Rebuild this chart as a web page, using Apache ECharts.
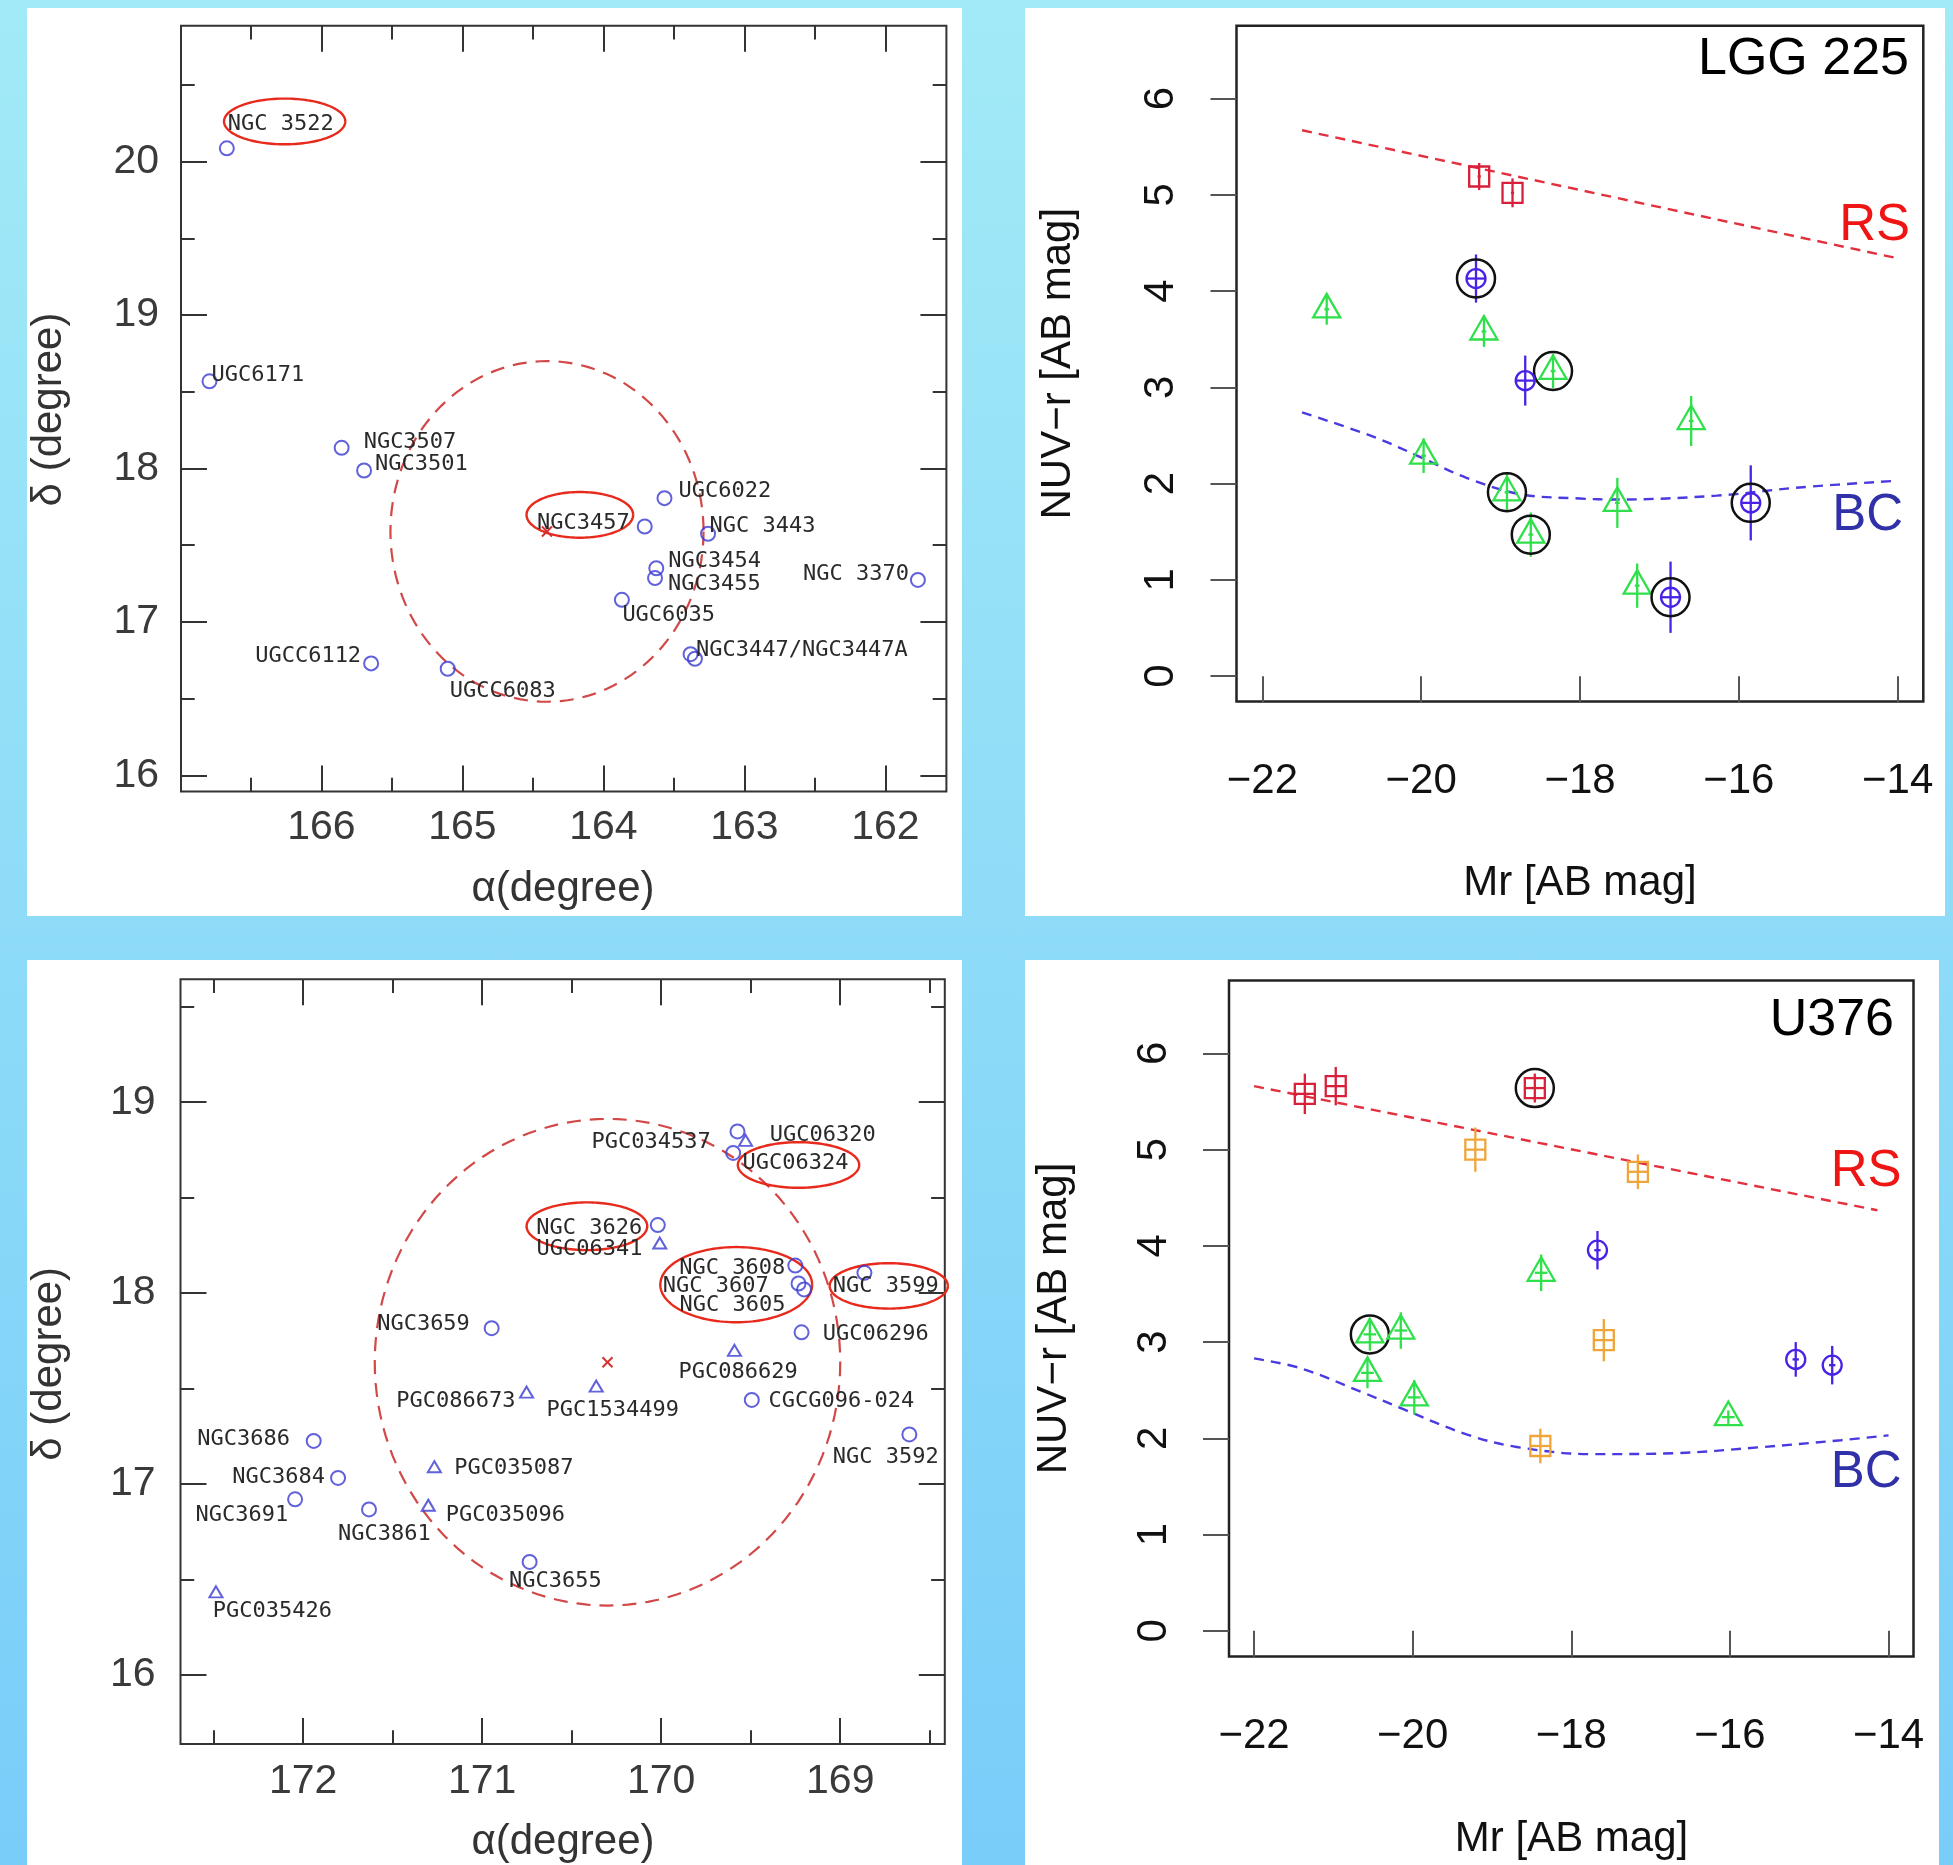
<!DOCTYPE html>
<html><head><meta charset="utf-8">
<script src="https://cdn.jsdelivr.net/npm/echarts@6/dist/echarts.min.js"></script>
<style>
html,body{margin:0;padding:0;}
body{width:1953px;height:1865px;background:linear-gradient(#a2eaf7,#79cdf9);position:relative;overflow:hidden;}
.panel{position:absolute;background:#fff;}
#chart{position:absolute;left:0;top:0;width:1953px;height:1865px;}
</style></head><body>
<div class="panel" style="left:27px;top:8px;width:935px;height:908px"></div>
<div class="panel" style="left:1025px;top:8px;width:920px;height:908px"></div>
<div class="panel" style="left:27px;top:960px;width:935px;height:905px"></div>
<div class="panel" style="left:1025px;top:960px;width:914px;height:905px"></div>
<div id="chart"></div>
<script>
// ================= DATA =================
// --- Panel A: LGG 225 sky map (RA, Dec in degrees) ---
const lggNames  = ['NGC 3522','UGC6171','NGC3507','NGC3501','NGC3457','UGC6022','NGC 3443','NGC3454','NGC3455','UGC6035','NGC 3370','NGC3447','NGC3447A','UGCC6112','UGCC6083'];
const lggRA     = [166.67,166.793,165.856,165.697,163.707,163.567,163.258,163.625,163.634,163.869,161.77,163.382,163.351,165.647,165.104];
const lggDec    = [20.087,18.568,18.135,17.987,17.622,17.807,17.575,17.35,17.286,17.144,17.274,16.79,16.76,16.73,16.695];
const lggLabels = ['NGC 3522','UGC6171','NGC3507','NGC3501','NGC3457','UGC6022','NGC 3443','NGC3454','NGC3455','UGC6035','NGC 3370','','NGC3447/NGC3447A','UGCC6112','UGCC6083'];
const lggCenter = [[164.40,17.59,1.11,1.11]];          // group centre and radius (deg)
const lggRings  = [[166.26,20.262,0.43,0.149],[164.167,17.698,0.378,0.149]];
const lggXTicks = [162,163,164,165,166];
const lggXMinor = [162.5,163.5,164.5,165.5,166.5];
const lggYTicks = [16,17,18,19,20];
const lggYMinor = [16.5,17.5,18.5,19.5,20.5];

// --- Panel C: U376 sky map ---
const uCircNames  = ['cA','cB','NGC 3626','NGC 3608','NGC 3607','NGC 3605','NGC 3599','UGC06296','NGC3659','CGCG096-024','NGC 3592','NGC3686','NGC3684','NGC3691','NGC3861','NGC3655'];
const uCircLabels = ['PGC034537','UGC06324','NGC 3626','NGC 3608','NGC 3607','NGC 3605','NGC 3599','UGC06296','NGC3659','CGCG096-024','NGC 3592','NGC3686','NGC3684','NGC3691','NGC3861','NGC3655'];
const uCircRA  = [169.574,169.598,170.019,169.251,169.233,169.202,168.865,169.216,170.947,169.494,168.614,171.941,171.805,172.045,171.632,170.735];
const uCircDec = [18.847,18.734,18.356,18.144,18.05,18.019,18.106,17.794,17.816,17.44,17.259,17.225,17.031,16.919,16.866,16.591];
const uTriLabels = ['UGC06320','UGC06341','PGC086629','PGC086673','PGC1534499','PGC035087','PGC035096','PGC035426'];
const uTriRA  = [169.529,170.008,169.591,170.752,170.363,171.267,171.301,172.487];
const uTriDec = [18.80,18.262,17.70,17.481,17.5125,17.09,16.888,16.434];
const uCenter = [[170.30,17.6375,1.30,1.275]];
const uRings  = [[169.233,18.671,0.339,0.1195],[170.415,18.35,0.337,0.125],[169.581,18.044,0.424,0.197],[168.729,18.0375,0.33,0.119]];
const uXTicks = [169,170,171,172];
const uXMinor = [168.5,169.5,170.5,171.5,172.5];
const uYTicks = [16,17,18,19];
const uYMinor = [16.5,17.5,18.5,19.5];

// --- Panel B: LGG 225 colour-magnitude ---
const bRedX = [-19.27,-18.85], bRedY = [5.19,5.02], bRedErr = [0.14,0.15], bRedXErr = [0.02,0.02], bRedRing = [0,0];
const bBlueX = [-19.31,-18.69,-15.85,-16.86], bBlueY = [4.13,3.07,1.80,0.82], bBlueErr = [0.25,0.26,0.39,0.37], bBlueXErr = [0.12,0.12,0.12,0.12], bBlueRing = [1,0,1,1];
const bGreenX = [-21.19,-19.21,-18.34,-19.97,-18.92,-18.62,-17.53,-16.60,-17.28];
const bGreenY = [3.81,3.58,3.17,2.29,1.91,1.47,1.80,2.65,0.94];
const bGreenErr = [0.16,0.16,0.18,0.18,0.20,0.23,0.26,0.26,0.23];
const bGreenXErr = [0.03,0.03,0.03,0.03,0.03,0.03,0.03,0.03,0.03];
const bGreenRing = [0,0,1,0,1,1,0,0,0];
const bRS = [[-21.5,5.67],[-14,4.34]];
const bBC = [[-21.5,2.74],[-20.58,2.48],[-19.97,2.26],[-19.43,2.06],[-18.75,1.89],[-18.0,1.845],[-17.54,1.835],[-16.28,1.875],[-15.24,1.96],[-14,2.03]];

// --- Panel D: U376 colour-magnitude ---
const dRedX = [-21.36,-20.97,-18.46], dRedY = [5.58,5.66,5.64], dRedErr = [0.21,0.20,0.15], dRedXErr = [0.13,0.13,0.13], dRedRing = [0,0,1];
const dOrX = [-19.21,-17.16,-17.59,-18.39], dOrY = [5.00,4.77,3.02,1.92], dOrErr = [0.23,0.18,0.22,0.18], dOrXErr = [0.12,0.12,0.12,0.12], dOrRing = [0,0,0,0];
const dBlueX = [-17.67,-15.17,-14.71], dBlueY = [3.955,2.82,2.76], dBlueErr = [0.20,0.18,0.20], dBlueXErr = [0.04,0.04,0.04], dBlueRing = [0,0,0];
const dGreenX = [-20.54,-20.15,-20.57,-19.98,-18.38,-16.02], dGreenY = [3.08,3.12,2.68,2.425,3.72,2.22];
const dGreenErr = [0.17,0.19,0.16,0.18,0.19,0.07], dGreenXErr = [0.08,0.08,0.08,0.08,0.08,0.08], dGreenRing = [1,0,0,0,0,0];
const dRS = [[-22,5.66],[-14.14,4.37]];
const dBC = [[-22,2.83],[-21.42,2.73],[-20.64,2.48],[-20.11,2.30],[-19.32,2.04],[-18.69,1.91],[-17.75,1.835],[-16.70,1.845],[-15.65,1.905],[-14.6,1.98],[-14.0,2.03]];
const cmdXTicks = [-22,-20,-18,-16,-14];
const cmdYTicks = [0,1,2,3,4,5,6];

// ================= LAYOUT (label offsets in px) =================
const lggLabelLayout = [[1,-24,'left'],[2,-6,'left'],[22,-6,'left'],[11,-6,'left'],[-15,-3,'right'],[14,-7,'left'],[1.5,-7,'left'],[12,-7,'left'],[13,6,'left'],[0.5,15,'left'],[-9,-6,'right'],null,[1,-8,'left'],[-10,-7,'right'],[2,23,'left']];
const uCircLayout = [[-26.8,11.3,'right'],[9.3,10.1,'left'],[-15.6,3,'right'],[-10,2.4,'right'],[-29.9,3,'right'],[-18.7,16.1,'right'],[-31.7,13.7,'left'],[21.2,1.8,'left'],[-21.8,-3.6,'right'],[16.8,1.2,'left'],[-76.6,23.3,'left'],[-23.7,-1.2,'right'],[-13.1,-0.6,'right'],[-6.8,16.1,'right'],[-31.1,24.4,'left'],[-20.5,19.7,'left']];
const uTriLayout = [[24.3,-5.4,'left'],[-17.4,6,'right'],[-56,22,'left'],[-11.2,9,'right'],[-49.8,23.9,'left'],[19.9,1.2,'left'],[17.4,10.1,'left'],[-3.1,19.1,'left']];

const SANS = '"Liberation Sans", Arial, Helvetica, sans-serif';
const MONO = '"DejaVu Sans Mono", "Liberation Mono", monospace';
const SKYBLUE = '#3a3ad2';
const GREEN = '#2fe04a', BLUE = '#4a22e6', RED = '#d8203a', ORANGE = '#f0a53a';

const chart = echarts.init(document.getElementById('chart'), null, {renderer:'canvas'});

const xAxes = [], yAxes = [];
function noAxis(o){ return Object.assign({type:'value', splitLine:{show:false}, axisLine:{show:false}, axisPointer:{show:false}}, o); }
function skyAxes(grid, xr, yr, xMaj, xMin, yMaj, yMin, xMargin, yMargin){
  const tk = (vals, len) => ({show:true, inside:true, length:len, customValues:vals, lineStyle:{color:'#333', width:2}});
  const lab = (vals, margin) => ({show:true, customValues:vals, margin, fontSize:41, fontFamily:SANS, color:'#3a3a3a'});
  const xi = xAxes.length, yi = yAxes.length;
  xAxes.push(noAxis({gridIndex:grid, min:xr[0], max:xr[1], inverse:true, position:'bottom', axisTick:tk(xMaj,26), axisLabel:lab(xMaj,xMargin)}));
  xAxes.push(noAxis({gridIndex:grid, min:xr[0], max:xr[1], inverse:true, position:'bottom', axisTick:tk(xMin,13.7), axisLabel:{show:false}}));
  xAxes.push(noAxis({gridIndex:grid, min:xr[0], max:xr[1], inverse:true, position:'top', axisTick:tk(xMaj,26), axisLabel:{show:false}}));
  xAxes.push(noAxis({gridIndex:grid, min:xr[0], max:xr[1], inverse:true, position:'top', axisTick:tk(xMin,13.7), axisLabel:{show:false}}));
  yAxes.push(noAxis({gridIndex:grid, min:yr[0], max:yr[1], position:'left', axisTick:tk(yMaj,26), axisLabel:lab(yMaj,yMargin)}));
  yAxes.push(noAxis({gridIndex:grid, min:yr[0], max:yr[1], position:'left', axisTick:tk(yMin,13.7), axisLabel:{show:false}}));
  yAxes.push(noAxis({gridIndex:grid, min:yr[0], max:yr[1], position:'right', axisTick:tk(yMaj,26), axisLabel:{show:false}}));
  yAxes.push(noAxis({gridIndex:grid, min:yr[0], max:yr[1], position:'right', axisTick:tk(yMin,13.7), axisLabel:{show:false}}));
  return [xi, yi];
}
const minusFmt = v => (v < 0 ? '\u2212' + Math.abs(v) : String(v));
function cmdAxes(grid, xr, yr){
  const xi = xAxes.length, yi = yAxes.length;
  xAxes.push(noAxis({gridIndex:grid, min:xr[0], max:xr[1], position:'bottom',
    axisTick:{show:true, inside:false, length:26, customValues:cmdXTicks, lineStyle:{color:'#555', width:2}},
    axisLabel:{show:true, customValues:cmdXTicks, margin:59, fontSize:42, fontFamily:SANS, color:'#111', formatter:minusFmt}}));
  yAxes.push(noAxis({gridIndex:grid, min:yr[0], max:yr[1], position:'left',
    axisTick:{show:true, inside:false, length:26, customValues:cmdYTicks, lineStyle:{color:'#555', width:2}},
    axisLabel:{show:true, customValues:cmdYTicks, margin:54, rotate:90, fontSize:42, fontFamily:SANS, color:'#111'}}));
  return [xi, yi];
}

const [aX, aY] = skyAxes(0, [161.568,166.995], [15.895,20.886], lggXTicks, lggXMinor, lggYTicks, lggYMinor, 16, 22);
const [bX, bY] = cmdAxes(1, [-22.326,-13.677], [-0.264,6.755]);
const [cX, cY] = skyAxes(2, [168.416,172.685], [15.637,19.644], uXTicks, uXMinor, uYTicks, uYMinor, 17, 25);
const [dX, dY] = cmdAxes(3, [-22.316,-13.685], [-0.268,6.757]);

function pairs(xs, ys){ return xs.map((x,i)=>[x, ys[i]]); }

function ellipseSeries(xi, yi, list, style, z){
  return {type:'custom', xAxisIndex:xi, yAxisIndex:yi, silent:true, z, clip:false, data:list, encode:{x:0,y:1},
    renderItem(params, api){
      const cx = api.value(0), cy = api.value(1);
      const c = api.coord([cx, cy]);
      const e = api.coord([cx + api.value(2), cy + api.value(3)]);
      const rx = Math.abs(e[0]-c[0]), ry = Math.abs(e[1]-c[1]);
      const pts = [];
      for (let k = 0; k <= 144; k++){ const a = k/144*2*Math.PI; pts.push([c[0]+rx*Math.cos(a), c[1]+ry*Math.sin(a)]); }
      return {type:'polyline', shape:{points:pts}, style:Object.assign({fill:null}, style)};
    }};
}
function crossSeries(xi, yi, list){
  return {type:'custom', xAxisIndex:xi, yAxisIndex:yi, silent:true, z:4, data:list, encode:{x:0,y:1},
    renderItem(params, api){
      const c = api.coord([api.value(0), api.value(1)]); const s = 5;
      const st = {stroke:'#d83030', lineWidth:2};
      return {type:'group', children:[
        {type:'line', shape:{x1:c[0]-s,y1:c[1]-s,x2:c[0]+s,y2:c[1]+s}, style:st},
        {type:'line', shape:{x1:c[0]-s,y1:c[1]+s,x2:c[0]+s,y2:c[1]-s}, style:st}]};
    }};
}
function skyScatter(xi, yi, data, symbol, size){
  return {type:'scatter', xAxisIndex:xi, yAxisIndex:yi, silent:true, z:5, symbol, symbolSize:size, data,
    itemStyle:{color:'rgba(0,0,0,0)', borderColor:SKYBLUE, borderWidth:2}, emphasis:{disabled:true}};
}
function labelSeries(xi, yi, data, texts, layout){
  return {type:'custom', xAxisIndex:xi, yAxisIndex:yi, silent:true, z:6, clip:false, data, encode:{x:0,y:1},
    renderItem(params, api){
      const i = params.dataIndex; const t = texts[i], l = layout[i];
      if (!t || !l) return {type:'group', children:[]};
      const p = api.coord([api.value(0), api.value(1)]);
      return {type:'text', x:p[0]+l[0], y:p[1]+l[1], style:{text:t, fill:'#2a2a2a', textFill:'#2a2a2a', font:'22px '+MONO,
        align:l[2], textAlign:l[2], verticalAlign:'middle', textVerticalAlign:'middle'}};
    }};
}
function errSeries(xi, yi, xs, ys, ey, ex, ring, shape, color){
  const data = xs.map((x,i)=>[x, ys[i], ey[i], ex[i], ring[i]]);
  return {type:'custom', xAxisIndex:xi, yAxisIndex:yi, silent:true, z:5, clip:false, data, encode:{x:0,y:1},
    renderItem(params, api){
      const x = api.value(0), y = api.value(1), e = api.value(2), exx = api.value(3), rg = api.value(4);
      const p = api.coord([x, y]);
      const pt = api.coord([x, y+e]), pb = api.coord([x, y-e]);
      const pl = api.coord([x-exx, y]), pr = api.coord([x+exx, y]);
      const st = {stroke:color, lineWidth:2.3, fill:null};
      const ch = [];
      if (shape === 'tri') ch.push({type:'polygon', shape:{points:[[p[0],p[1]-15.5],[p[0]+13.5,p[1]+8],[p[0]-13.5,p[1]+8]]}, style:st});
      else if (shape === 'circ') ch.push({type:'circle', shape:{cx:p[0], cy:p[1], r:9.5}, style:st});
      else ch.push({type:'rect', shape:{x:p[0]-10, y:p[1]-10, width:20, height:20}, style:st});
      ch.push({type:'line', shape:{x1:p[0], y1:pt[1], x2:p[0], y2:pb[1]}, style:{stroke:color, lineWidth:2.3}});
      ch.push({type:'line', shape:{x1:pl[0], y1:p[1], x2:pr[0], y2:p[1]}, style:{stroke:color, lineWidth:2.3}});
      if (rg) ch.push({type:'circle', shape:{cx:p[0], cy:p[1], r:19}, style:{stroke:'#111', lineWidth:2.5, fill:null}});
      return {type:'group', children:ch};
    }};
}
function dashLine(xi, yi, data, color, smooth){
  return {type:'line', xAxisIndex:xi, yAxisIndex:yi, silent:true, z:3, data, symbol:'none', smooth:smooth ? 0.35 : false,
    lineStyle:{color, width:2.4, type:[10,7]}, emphasis:{disabled:true}};
}

const series = [
  // Panel A
  ellipseSeries(aX, aY, lggCenter, {stroke:'#d24848', lineWidth:2.2, lineDash:[14,9]}, 3),
  ellipseSeries(aX, aY, lggRings, {stroke:'#e82a1c', lineWidth:2.4}, 4),
  crossSeries(aX, aY, [lggCenter[0].slice(0,2)]),
  skyScatter(aX, aY, pairs(lggRA, lggDec), 'circle', 14),
  labelSeries(aX, aY, pairs(lggRA, lggDec), lggLabels, lggLabelLayout),
  // Panel C
  ellipseSeries(cX, cY, uCenter, {stroke:'#d24848', lineWidth:2.2, lineDash:[14,9]}, 3),
  ellipseSeries(cX, cY, uRings, {stroke:'#e82a1c', lineWidth:2.4}, 4),
  crossSeries(cX, cY, [uCenter[0].slice(0,2)]),
  skyScatter(cX, cY, pairs(uCircRA, uCircDec), 'circle', 14),
  skyScatter(cX, cY, pairs(uTriRA, uTriDec), 'triangle', [13,11]),
  labelSeries(cX, cY, pairs(uCircRA, uCircDec), uCircLabels, uCircLayout),
  labelSeries(cX, cY, pairs(uTriRA, uTriDec), uTriLabels, uTriLayout),
  // Panel B
  dashLine(bX, bY, bRS, '#e2303e', false),
  dashLine(bX, bY, bBC, '#4a3ae0', true),
  errSeries(bX, bY, bRedX, bRedY, bRedErr, bRedXErr, bRedRing, 'sq', RED),
  errSeries(bX, bY, bGreenX, bGreenY, bGreenErr, bGreenXErr, bGreenRing, 'tri', GREEN),
  errSeries(bX, bY, bBlueX, bBlueY, bBlueErr, bBlueXErr, bBlueRing, 'circ', BLUE),
  // Panel D
  dashLine(dX, dY, dRS, '#e2303e', false),
  dashLine(dX, dY, dBC, '#4a3ae0', true),
  errSeries(dX, dY, dRedX, dRedY, dRedErr, dRedXErr, dRedRing, 'sq', RED),
  errSeries(dX, dY, dOrX, dOrY, dOrErr, dOrXErr, dOrRing, 'sq', ORANGE),
  errSeries(dX, dY, dGreenX, dGreenY, dGreenErr, dGreenXErr, dGreenRing, 'tri', GREEN),
  errSeries(dX, dY, dBlueX, dBlueY, dBlueErr, dBlueXErr, dBlueRing, 'circ', BLUE)
];

function txt(x, y, text, size, color, align, rot){
  const o = {type:'text', x, y, z:50, silent:true,
    style:{text, font:size+'px '+SANS, fill:color, textFill:color, align, textAlign:align, verticalAlign:'middle', textVerticalAlign:'middle'}};
  if (rot) o.rotation = rot;
  return o;
}
const graphic = [
  txt(563, 889.7, 'α(degree)', 42, '#333', 'center'),
  txt(49.8, 409.5, 'δ (degree)', 42, '#333', 'center', Math.PI/2),
  txt(563, 1842.3, 'α(degree)', 42, '#333', 'center'),
  txt(49.8, 1363.8, 'δ (degree)', 42, '#333', 'center', Math.PI/2),
  txt(1580, 883.7, 'Mr [AB mag]', 42, '#111', 'center'),
  txt(1571.5, 1839, 'Mr [AB mag]', 42, '#111', 'center'),
  txt(1058, 363.7, 'NUV\u2212r [AB mag]', 42, '#111', 'center', Math.PI/2),
  txt(1054, 1318.5, 'NUV\u2212r [AB mag]', 42, '#111', 'center', Math.PI/2),
  txt(1909, 59.5, 'LGG 225', 52, '#000', 'right'),
  txt(1894, 1020.6, 'U376', 52, '#000', 'right'),
  txt(1910, 226, 'RS', 51, '#f01515', 'right'),
  txt(1901.5, 1172, 'RS', 51, '#f01515', 'right'),
  txt(1903, 516, 'BC', 51, '#3030a8', 'right'),
  txt(1901.5, 1473, 'BC', 51, '#3030a8', 'right')
];

const gridBase = {show:true, backgroundColor:'rgba(0,0,0,0)', containLabel:false, outerBoundsMode:'none'};
chart.setOption({
  animation:false,
  backgroundColor:'rgba(0,0,0,0)',
  grid:[
    Object.assign({left:181, top:25.7, width:765.4, height:765.8, borderColor:'#333', borderWidth:2}, gridBase),
    Object.assign({left:1236.5, top:25.8, width:686.8, height:675.8, borderColor:'#222', borderWidth:2.5}, gridBase),
    Object.assign({left:180.5, top:979.3, width:764.3, height:764.7, borderColor:'#333', borderWidth:2}, gridBase),
    Object.assign({left:1229, top:980.6, width:684.5, height:675.9, borderColor:'#222', borderWidth:2.5}, gridBase)
  ],
  xAxis:xAxes, yAxis:yAxes, series, graphic
});
</script>
</body></html>
